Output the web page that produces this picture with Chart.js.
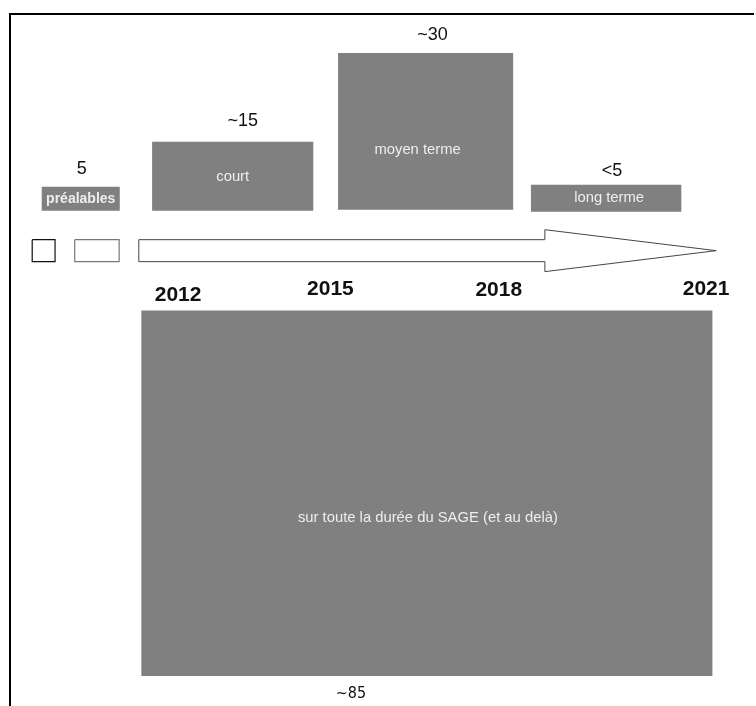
<!DOCTYPE html>
<html>
<head>
<meta charset="utf-8">
<script src="https://cdn.jsdelivr.net/npm/chart.js@4/dist/chart.umd.min.js"></script>
<style>
  html, body { margin: 0; padding: 0; background: #fff; overflow: hidden; }
  #wrap { width: 756px; height: 706px; }
</style>
</head>
<body>
<div id="wrap"><canvas id="timeline"></canvas></div>
<script>
// phases of the programme, placed on a timeline in years
const phaseNames = ['préalables', 'court', 'moyen terme', 'long terme', 'sur toute la durée du SAGE (et au delà)']
const phaseValueLabels = ['5', '~15', '~30', '<5', '~85']
const phaseStart = [2010.45, 2012.19, 2015.12, 2018.16, 2012.02]
const phaseEnd = [2011.68, 2014.73, 2017.88, 2020.53, 2021.02]
// vertical extent of each box (units ~ number of actions)
const phaseLow = [0, 0, 0.2, -0.2, -20]
const phaseHigh = [4.8, 13.8, 31.6, 5.2, -93.2]

// years written under the arrow
const yearLabels = ['2012', '2015', '2018', '2021']
const yearValues = [2012, 2015, 2018, 2021]

// timeline arrow and the two small boxes before it
const arrowX = [2011.98, 2018.38, 2018.38, 2021.08, 2018.38, 2018.38, 2011.98, 2011.98]
const arrowY = [-5.8, -5.8, -3.8, -8, -12.2, -10.2, -10.2, -5.8]
const squareX = [2010.30, 2010.66]
const smallBoxX = [2010.97, 2011.67]
const smallBoxY = [-5.8, -10.2]

function rect(x0, x1, y0, y1) {
  return [
    {x: x0, y: y0}, {x: x1, y: y0}, {x: x1, y: y1}, {x: x0, y: y1}, {x: x0, y: y0}
  ]
}

var datasets = []
for (var i = 0; i < phaseNames.length; i++) {
  datasets.push({
    label: phaseNames[i],
    data: rect(phaseStart[i], phaseEnd[i], phaseLow[i], phaseHigh[i]),
    backgroundColor: '#808080',
    borderColor: '#808080',
    borderWidth: 0,
    fill: 'shape'
  })
}

var arrowPts = []
for (var i = 0; i < arrowX.length; i++) {
  arrowPts.push({x: arrowX[i], y: arrowY[i]})
}
datasets.push({
  label: 'arrow',
  data: arrowPts,
  backgroundColor: '#ffffff',
  borderColor: '#444444',
  borderWidth: 1,
  fill: 'shape'
})
datasets.push({
  label: 'square',
  data: rect(squareX[0], squareX[1], smallBoxY[0], smallBoxY[1]),
  backgroundColor: '#ffffff',
  borderColor: '#111111',
  borderWidth: 1.2,
  fill: 'shape'
})
datasets.push({
  label: 'small box',
  data: rect(smallBoxX[0], smallBoxX[1], smallBoxY[0], smallBoxY[1]),
  backgroundColor: '#ffffff',
  borderColor: '#777777',
  borderWidth: 1.2,
  fill: 'shape'
})

// writes the numbers, box names and years
const labelsPlugin = {
  id: 'labels',
  afterDatasetsDraw(chart, args, opts) {
    const ctx = chart.ctx
    const xs = chart.scales.x
    const ys = chart.scales.y
    ctx.save()
    ctx.textAlign = 'center'
    ctx.textBaseline = 'middle'
    for (var i = 0; i < phaseNames.length; i++) {
      var cx = (xs.getPixelForValue(phaseStart[i]) + xs.getPixelForValue(phaseEnd[i])) / 2
      var top = ys.getPixelForValue(Math.max(phaseLow[i], phaseHigh[i]))
      var bottom = ys.getPixelForValue(Math.min(phaseLow[i], phaseHigh[i]))
      var cy = (top + bottom) / 2

      ctx.fillStyle = '#eeeeee'
      ctx.font = (i == 0 ? 'bold 14px' : '14.8px') + ' "Liberation Sans", Arial, sans-serif'
      ctx.fillText(phaseNames[i], cx + opts.nameDx[i], cy + opts.nameDy[i])

      ctx.fillStyle = '#111111'
      ctx.font = '18px "Liberation Sans", Arial, sans-serif'
      if (phaseHigh[i] > 0) {
        ctx.fillText(phaseValueLabels[i], cx + opts.valueDx[i], top - opts.valueGap[i])
      } else {
        ctx.font = '16px "Liberation Sans Narrow", "DejaVu Sans Condensed", Arial, sans-serif'
        ctx.fillText(phaseValueLabels[i], cx + opts.valueDx[i], bottom + opts.valueGap[i])
      }
    }
    ctx.fillStyle = '#111111'
    ctx.font = 'bold 21px "Liberation Sans", Arial, sans-serif'
    for (var j = 0; j < yearLabels.length; j++) {
      ctx.fillText(yearLabels[j], xs.getPixelForValue(yearValues[j]) + opts.yearDx[j], opts.yearY[j])
    }
    ctx.restore()
  }
}

new Chart(document.getElementById('timeline'), {
  type: 'scatter',
  data: { datasets: datasets },
  options: {
    responsive: true,
    maintainAspectRatio: false,
    animation: false,
    showLine: true,
    elements: {
      line: { tension: 0 },
      point: { radius: 0, hoverRadius: 0 }
    },
    layout: { padding: { left: 2, top: 6, right: 3, bottom: 0 } },
    scales: {
      x: {
        type: 'linear',
        position: 'top',
        min: 2009.95,
        max: 2021.66,
        ticks: { display: false },
        grid: { display: false },
        border: { display: true, color: '#000', width: 2 }
      },
      y: {
        type: 'linear',
        min: -99.2,
        max: 39.4,
        ticks: { display: false },
        grid: { display: false },
        border: { display: true, color: '#000', width: 2 }
      }
    },
    plugins: {
      legend: { display: false },
      tooltip: { enabled: false },
      labels: {
        nameDx: [0, 0, -8, 3, 1],
        nameDy: [0, 1, 19, 0, 25],
        valueDx: [1, 10, 7, 6, -76],
        valueGap: [18, 21, 18, 14, 18],
        yearDx: [38, 0, -22, -5],
        yearY: [295, 289, 290, 289]
      }
    }
  },
  plugins: [labelsPlugin]
})
</script>
</body>
</html>
